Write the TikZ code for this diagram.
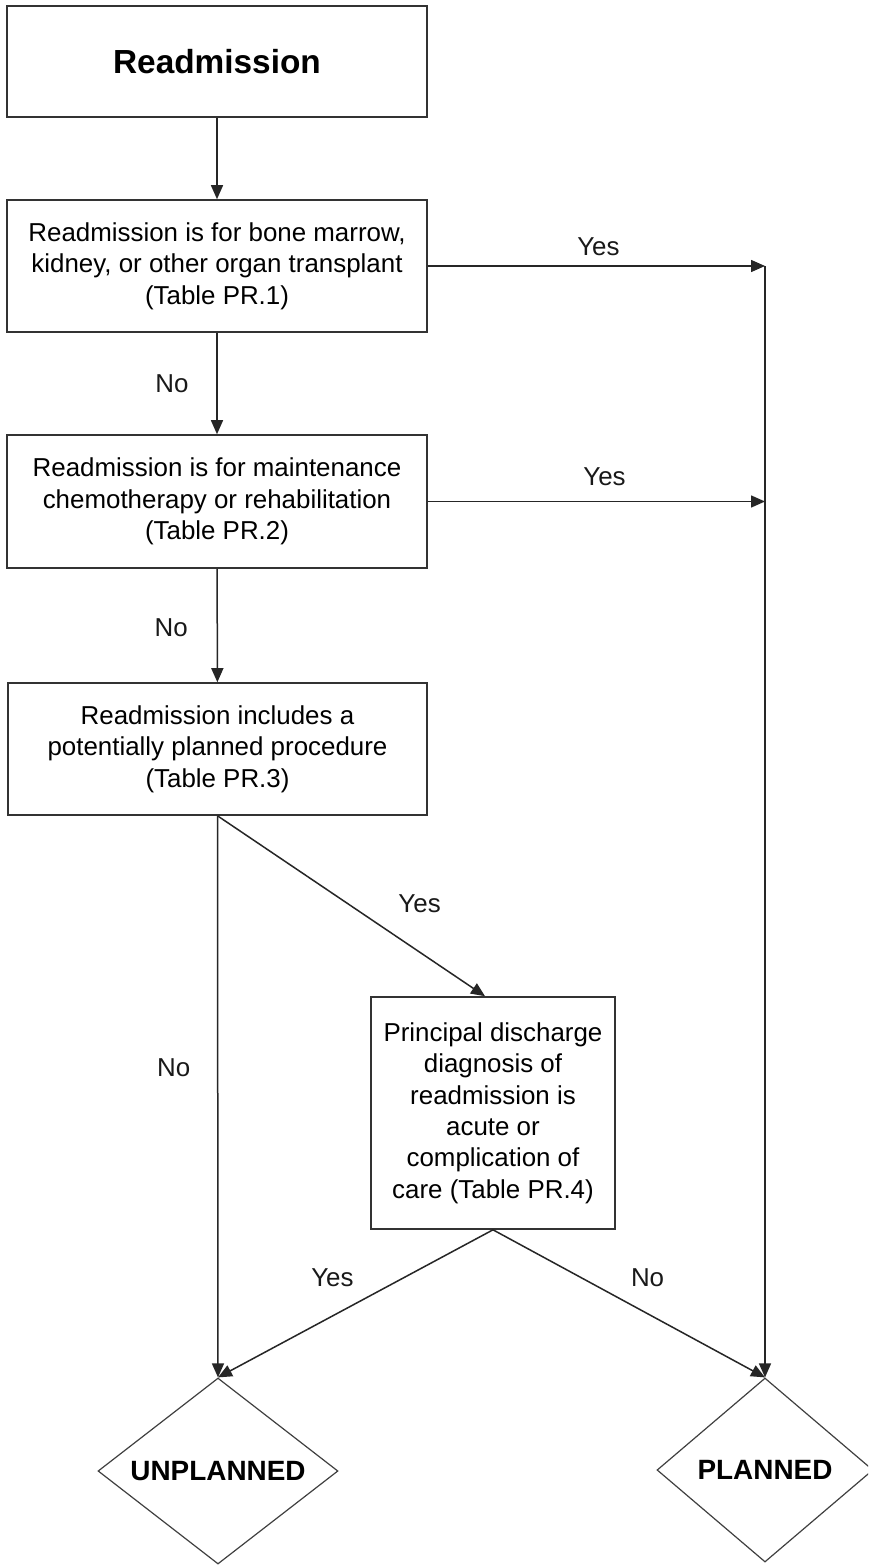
\documentclass[tikz,border=0pt]{standalone}
\usepackage{fontspec}
\setmainfont{Liberation Sans}
\usetikzlibrary{arrows.meta,shapes.geometric}
\begin{document}
\begin{tikzpicture}[x=1bp,y=-1bp,
  every node/.style={font=\fontsize{26}{31.5}\selectfont, text=black},
  box/.style={draw=black!80, line width=1.6bp, rectangle, align=center, inner sep=0},
  decision/.style={draw=black!75, line width=1.2bp, diamond, aspect=1.3, inner sep=0,
    font=\fontsize{28}{32}\selectfont\bfseries},
  conn/.style={draw=black!85, line width=1.5bp},
  arr/.style={conn, -{Triangle[length=14bp,width=12bp]}},
  lbl/.style={inner sep=0, text=black!90}]

\useasboundingbox (0,0) rectangle (868,1566);
\clip (0,0) rectangle (868,1566);
\fill[white] (0,0) rectangle (868,1566);

% decision boxes
\node[box, minimum width=420bp, minimum height=111bp,
      font=\fontsize{33.5}{38}\selectfont\bfseries] (b0) at (217,61.5) {Readmission};
\node[box, minimum width=420bp, minimum height=132bp] (b1) at (217,266)
  {Readmission is for bone marrow,\\kidney, or other organ transplant\\(Table PR.1)};
\node[box, minimum width=420bp, minimum height=133bp] (b2) at (217,501.5)
  {Readmission is for maintenance\\chemotherapy or rehabilitation\\(Table PR.2)};
\node[box, minimum width=419bp, minimum height=132bp] (b3) at (217.5,749)
  {Readmission includes a\\potentially planned procedure\\(Table PR.3)};
\node[box, minimum width=244bp, minimum height=232bp] (b4) at (493,1113)
  {Principal discharge\\diagnosis of\\readmission is\\acute or\\complication of\\care (Table PR.4)};

% outcomes
\node[decision, minimum width=240bp, minimum height=186bp] (un) at (218,1471) {UNPLANNED};
\node[decision, minimum width=216bp, minimum height=184bp] (pl) at (765,1470) {PLANNED};

% junctions on the right-hand collector line
\coordinate (j1) at (765,266);
\coordinate (j2) at (765,501.5);

% connectors
\draw[arr] (b0) -- (b1);
\draw[arr] (b1.east) -- node[lbl, pos=0.506, yshift=19bp] {Yes} (j1);
\draw[arr] (b2.east) -- node[lbl, pos=0.524, yshift=24.5bp] {Yes} (j2);
\draw[arr] (j1) -- (pl.north);

\draw[arr] (b1) -- node[lbl, pos=0.5, xshift=-45bp] {No} (b2);
\draw[arr] (b2) -- node[lbl, pos=0.52, xshift=-46bp] {No} (b3);

\draw[arr] (b3.south) -- node[lbl, pos=0.448, xshift=-44bp] {No} (un.north);
\draw[arr] (b3.south) -- node[lbl, pos=0.49, xshift=71bp] {Yes} ([xshift=-8bp]b4.north);

\draw[arr] (b4.south) -- node[lbl, pos=0.322, xshift=-72bp] {Yes} (un.north);
\draw[arr] (b4.south) -- node[lbl, pos=0.322, xshift=67bp] {No} (pl.north);
\end{tikzpicture}
\end{document}
